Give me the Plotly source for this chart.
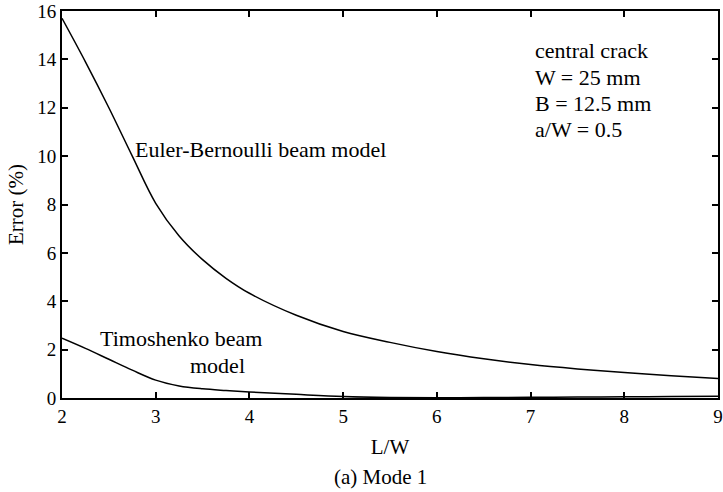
import plotly.graph_objects as go

# Data
lw = [2.0, 2.25, 2.5, 2.75, 3.0, 3.25, 3.5, 3.75, 4.0, 4.5, 5.0, 5.5, 6.0, 6.5, 7.0, 7.5, 8.0, 8.5, 9.0]
euler_bernoulli = [15.7, 13.9, 12.0, 10.0, 8.05, 6.7, 5.72, 4.95, 4.33, 3.42, 2.75, 2.3, 1.92, 1.62, 1.38, 1.2, 1.05, 0.92, 0.81]
timoshenko = [2.47, 2.05, 1.6, 1.15, 0.74, 0.5, 0.38, 0.31, 0.25, 0.15, 0.06, 0.02, 0.01, 0.02, 0.03, 0.04, 0.05, 0.06, 0.07]

x_ticks = [2, 3, 4, 5, 6, 7, 8, 9]
y_ticks = [0, 2, 4, 6, 8, 10, 12, 14, 16]

FONT = "Liberation Serif"

fig = go.Figure()
fig.add_trace(go.Scatter(x=lw, y=euler_bernoulli, mode="lines",
                         line=dict(color="black", width=1.5, shape="spline", smoothing=1.0),
                         name="Euler-Bernoulli beam model", showlegend=False))
fig.add_trace(go.Scatter(x=lw, y=timoshenko, mode="lines",
                         line=dict(color="black", width=1.5, shape="spline", smoothing=1.0),
                         name="Timoshenko beam model", showlegend=False))

axis_common = dict(
    showgrid=False, zeroline=False, showline=True, linecolor="black", linewidth=2,
    mirror="ticks", ticks="inside", ticklen=6, tickwidth=1.5, tickcolor="black",
    tickfont=dict(family=FONT, size=19, color="black"), automargin=False,
)

fig.update_xaxes(range=[2, 9], tickvals=x_ticks, ticktext=[str(v) for v in x_ticks],
                 title=dict(text="L/W", font=dict(family=FONT, size=21, color="black"), standoff=14),
                 **axis_common)
fig.update_yaxes(range=[0, 16], tickvals=y_ticks, ticktext=[str(v) for v in y_ticks],
                 title=dict(text="Error (%)", font=dict(family=FONT, size=21, color="black"), standoff=8),
                 **axis_common)

ann_font = dict(family=FONT, size=22, color="black")
fig.add_annotation(x=4.12, y=10.29, text="Euler-Bernoulli beam model", showarrow=False,
                   xanchor="center", yanchor="middle", font=ann_font)
fig.add_annotation(x=3.27, y=2.44, text="Timoshenko beam", showarrow=False,
                   xanchor="center", yanchor="middle", font=ann_font)
fig.add_annotation(x=3.66, y=1.36, text="model", showarrow=False,
                   xanchor="center", yanchor="middle", font=ann_font)

info_lines = ["central crack", "W = 25 mm", "B = 12.5 mm", "a/W = 0.5"]
info_y = [14.35, 13.27, 12.17, 11.1]
for txt, yy in zip(info_lines, info_y):
    fig.add_annotation(x=7.03, y=yy, text=txt, showarrow=False,
                       xanchor="left", yanchor="middle", font=ann_font)

fig.add_annotation(xref="paper", yref="paper", x=0.485, y=-0.205, text="(a) Mode 1",
                   showarrow=False, xanchor="center", yanchor="middle",
                   font=dict(family=FONT, size=21, color="black"))

fig.update_layout(
    template="none",
    width=723, height=492,
    margin=dict(l=62, r=5, t=11, b=94),
    plot_bgcolor="white", paper_bgcolor="white",
    font=dict(family=FONT, color="black"),
)

fig.write_html("out.html")
